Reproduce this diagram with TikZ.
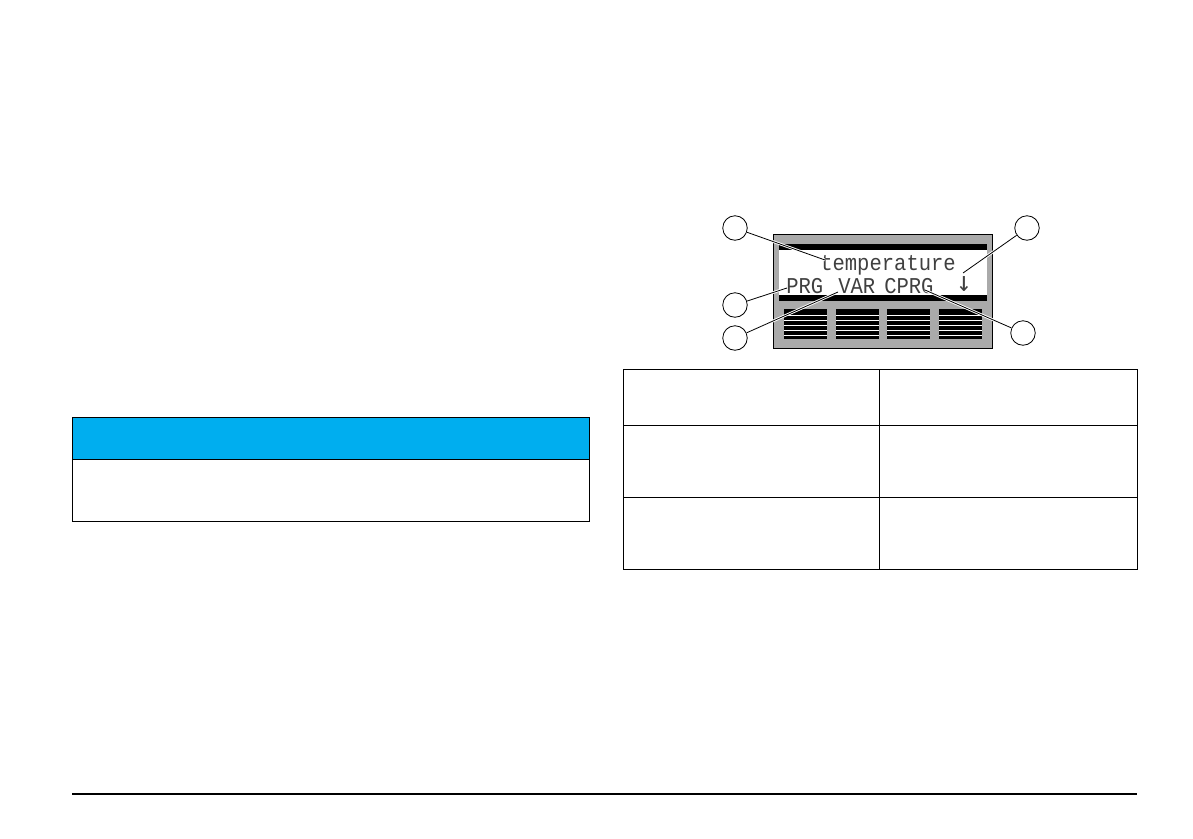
\documentclass[tikz,border=0pt]{standalone}
\usepackage{fontspec}
\newfontfamily\lcdfont{Liberation Mono}
\newfontfamily\symfont{DejaVu Sans Mono}
\definecolor{panelgray}{RGB}{170,170,170}
\definecolor{headblue}{RGB}{0,174,239}
\tikzset{
  callout/.style={circle, draw, fill=white, line width=.6pt, minimum size=24.5*.75pt, inner sep=0pt},
  lcdtext/.style={inner sep=0pt, anchor=base west, transform shape, yscale=1.1, text=black!75, font=\lcdfont\fontsize{15.4}{15.4}\selectfont},
  leader/.style={line width=.6pt, preaction={draw=white, line width=2pt}},
  keybar/.style={line width=.6pt, white},
  rule/.style={line width=.65pt}
}
\begin{document}
\begin{tikzpicture}[x=.75pt,y=-.75pt]
\useasboundingbox (0,0) rectangle (1193,839);
\fill[headblue] (72,417) rectangle (589,459);
\draw[rule] (72,417) rectangle (589,521);
\draw[rule] (72,459) -- (589,459);
\draw[rule] (623,369) rectangle (1137,569);
\draw[rule] (623,425) -- (1137,425);
\draw[rule] (623,497) -- (1137,497);
\draw[rule] (879,369) -- (879,569);
\draw[line width=1.5pt] (72,794) -- (1137,794);
\draw[fill=panelgray, line width=.7pt] (773,234) rectangle (992,348);
\fill[black] (779,244) rectangle (987,301);
\fill[white] (779,250) rectangle (987,295);
\fill[black] (784,309) rectangle (827,339);
\fill[black] (836,309) rectangle (879,339);
\fill[black] (887,309) rectangle (930,339);
\fill[black] (939,309) rectangle (982,339);
\draw[keybar] (784,315) -- (827,315);
\draw[keybar] (784,320) -- (827,320);
\draw[keybar] (784,325) -- (827,325);
\draw[keybar] (784,330) -- (827,330);
\draw[keybar] (784,335) -- (827,335);
\draw[keybar] (836,315) -- (879,315);
\draw[keybar] (836,320) -- (879,320);
\draw[keybar] (836,325) -- (879,325);
\draw[keybar] (836,330) -- (879,330);
\draw[keybar] (836,335) -- (879,335);
\draw[keybar] (887,315) -- (930,315);
\draw[keybar] (887,320) -- (930,320);
\draw[keybar] (887,325) -- (930,325);
\draw[keybar] (887,330) -- (930,330);
\draw[keybar] (887,335) -- (930,335);
\draw[keybar] (939,315) -- (982,315);
\draw[keybar] (939,320) -- (982,320);
\draw[keybar] (939,325) -- (982,325);
\draw[keybar] (939,330) -- (982,330);
\draw[keybar] (939,335) -- (982,335);
\node[lcdtext] (temp) at (820,270){temperature};
\node[lcdtext] (prg) at (786,293){PRG};
\node[lcdtext] (var) at (838,293){VAR};
\node[lcdtext] (cprg) at (884,293){CPRG};
\node[lcdtext, font=\symfont\fontsize{19}{19}\selectfont] (down) at (956,291){↓};
\node[callout] (tempcall) at (735,228){};
\node[callout] (downcall) at (1027,228){};
\node[callout] (prgcall) at (735,305){};
\node[callout] (varcall) at (735,338){};
\node[callout] (cprgcall) at (1023,333){};
\coordinate (tempend) at (825,260);
\coordinate (downend) at (963,273);
\coordinate (prgend) at (787,288);
\coordinate (varend) at (838,292);
\coordinate (cprgend) at (925,290);
\draw[leader](tempcall) -- (tempend);
\draw[leader](downcall) -- (downend);
\draw[leader](prgcall) -- (prgend);
\draw[leader](varcall) -- (varend);
\draw[leader](cprgcall) -- (cprgend);
\end{tikzpicture}
\end{document}
